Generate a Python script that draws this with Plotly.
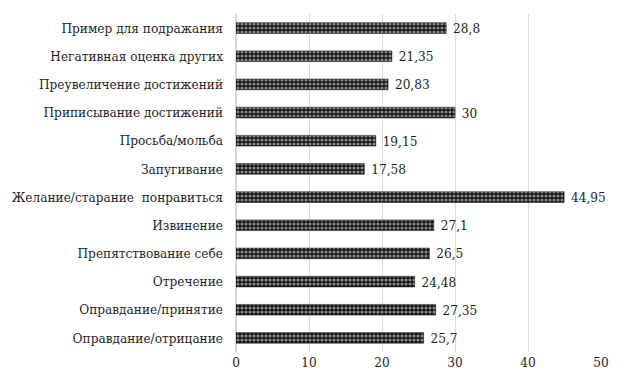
import plotly.graph_objects as go

categories = [
    "Пример для подражания",
    "Негативная оценка других",
    "Преувеличение достижений",
    "Приписывание достижений",
    "Просьба/мольба",
    "Запугивание",
    "Желание/старание  понравиться",
    "Извинение",
    "Препятствование себе",
    "Отречение",
    "Оправдание/принятие",
    "Оправдание/отрицание",
]
values = [28.8, 21.35, 20.83, 30, 19.15, 17.58, 44.95, 27.1, 26.5, 24.48, 27.35, 25.7]
value_labels = ["28,8", "21,35", "20,83", "30", "19,15", "17,58", "44,95", "27,1", "26,5", "24,48", "27,35", "25,7"]
x_ticks = [0, 10, 20, 30, 40, 50]

FONT = "DejaVu Serif Condensed, DejaVu Serif, serif"
TXT = "#1f1f1f"

fig = go.Figure(go.Bar(
    y=categories,
    x=values,
    orientation="h",
    text=[" " + v for v in value_labels],
    textposition="outside",
    constraintext="none",
    textfont=dict(family=FONT, size=13.5, color=TXT),
    cliponaxis=False,
    marker=dict(
        color="#111111",
        line=dict(color="#111111", width=0.5),
        pattern=dict(shape=".", fgcolor="white", bgcolor="#111111", size=4, solidity=0.5),
    ),
    width=0.38,
))

fig.update_layout(
    width=625, height=388,
    margin=dict(l=236, r=24, t=14, b=36),
    paper_bgcolor="white", plot_bgcolor="white",
    showlegend=False,
    font=dict(family=FONT, size=13.5, color=TXT),
    xaxis=dict(
        range=[0, 50], tickvals=x_ticks, ticktext=[str(t) for t in x_ticks],
        showgrid=True, gridcolor="#d9d9d9", gridwidth=1,
        zeroline=True, zerolinecolor="#d9d9d9", showline=False,
        ticks="", ticklen=0, automargin=False,
        tickfont=dict(family=FONT, size=13.5, color=TXT),
    ),
    yaxis=dict(
        autorange="reversed", showgrid=False, showline=False, ticks="",
        ticklabelstandoff=12, automargin=False,
        tickfont=dict(family=FONT, size=13.5, color=TXT),
    ),
)

fig.write_html("out.html")
